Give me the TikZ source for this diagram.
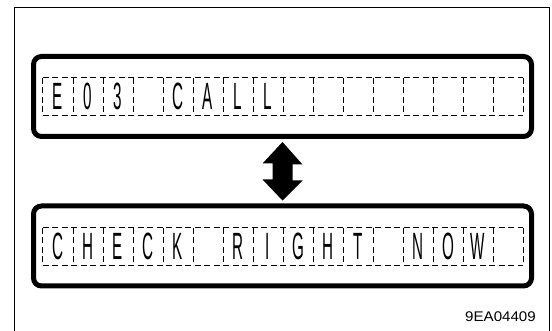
\documentclass[tikz,border=0pt]{standalone}
\usepackage{fontspec}
\setmainfont{Liberation Sans}
\newfontfamily\lcdfont[FakeStretch=0.4]{Liberation Sans}
\newfontfamily\codefont[FakeStretch=1.08]{Liberation Sans}
\begin{document}
\begin{tikzpicture}[x=1pt,y=-1pt,
  frame/.style={line width=0.9pt},
  panel/.style={draw, line width=5pt, rounded corners=8pt, minimum width=498pt, minimum height=80pt, inner sep=0pt},
  cell/.style={minimum width=30pt, minimum height=37pt, inner sep=0pt, font=\lcdfont\fontsize{38}{38}\selectfont},
  grid/.style={line width=1.3pt, dash pattern=on 6pt off 3.5pt},
  code/.style={font=\codefont\fontsize{14}{14}\selectfont, inner sep=0pt, anchor=east}]
\useasboundingbox (0,0) rectangle (552,331);
% outer frame (open at the bottom)
\coordinate (fbl) at (14,331);
\coordinate (ftl) at (14,7.5);
\coordinate (ftr) at (549.5,7.5);
\coordinate (fbr) at (549.5,331);
\draw[frame] (fbl) -- (ftl) -- (ftr) -- (fbr);
% panels
\node[panel] (p1) at (282.5,96.5) {};
\node[panel] (p2) at (282.5,246) {};
% cells
\foreach \t [count=\i] in {E,0,3,{},C,A,L,L,{},{},{},{},{},{},{},{}} {
  \node[cell] (a\i) at ({58+30*(\i-1)},96.5) {\t};
}
\foreach \t [count=\i] in {C,H,E,C,K,{},R,I,G,H,T,{},N,O,W,{}} {
  \node[cell] (b\i) at ({58+30*(\i-1)},246.5) {\t};
}
\foreach \r in {a,b} {
  \draw[grid] (\r1.north west) -- (\r16.north east);
  \draw[grid] (\r1.south west) -- (\r16.south east);
  \draw[grid] (\r1.north west) -- (\r1.south west);
  \foreach \i in {1,...,16} {
    \draw[grid] (\r\i.north east) -- (\r\i.south east);
  }
}
% double arrow between panels
\fill ([yshift=-3pt]p1.south) -- ++(20,22.5) -- ++(-10,0) -- ++(0,16) -- ++(10,0)
  -- ([yshift=3pt]p2.north) -- ++(-20,-21) -- ++(10,0) -- ++(0,-16) -- ++(-10,0) -- cycle;
% code
\node[code] (lbl) at (536,316.5) {9EA04409};
\end{tikzpicture}
\end{document}
